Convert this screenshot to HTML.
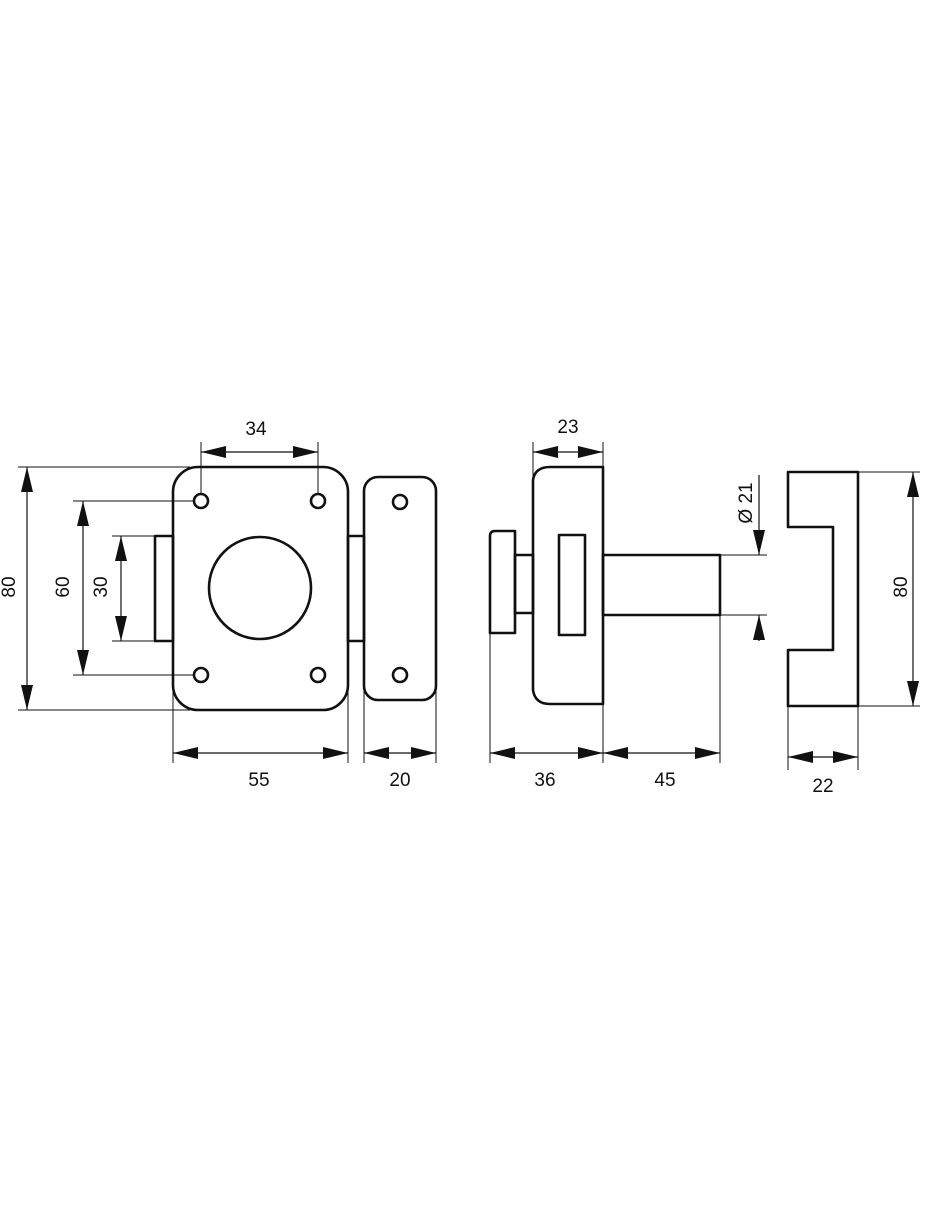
<!DOCTYPE html>
<html><head><meta charset="utf-8"><style>
html,body{margin:0;padding:0;background:#fff}
svg{display:block}
text{font-family:"Liberation Sans",sans-serif;font-size:19px;fill:#111}
</style></head><body>
<svg width="940" height="1214" viewBox="0 0 940 1214" xmlns="http://www.w3.org/2000/svg">
<defs>
<marker id="a" viewBox="0 0 10 10" refX="10" refY="5" markerWidth="25" markerHeight="12" markerUnits="userSpaceOnUse" orient="auto-start-reverse" preserveAspectRatio="none"><path d="M0,0 L10,5 L0,10 Z" fill="#111"/></marker>
</defs>
<g fill="none" stroke="#111" stroke-width="2.6" stroke-linejoin="round">
<rect x="155" y="536" width="18" height="105"/>
<rect x="348" y="536" width="16" height="105"/>
<rect x="173" y="467" width="175" height="243" rx="25"/>
<circle cx="260" cy="588" r="51"/>
<circle cx="201" cy="501" r="7"/><circle cx="318" cy="501" r="7"/>
<circle cx="201" cy="675" r="7"/><circle cx="318" cy="675" r="7"/>
<rect x="364" y="477" width="72" height="223" rx="14"/>
<circle cx="400" cy="502" r="7"/><circle cx="400" cy="675" r="7"/>
<path d="M533,480 Q535,467 550,467 H603 V704 H550 Q535,704 533,690 Z"/>
<rect x="559" y="535" width="26" height="100"/>
<path d="M490,536 Q490,531 495,531 H515 V633 H490 Z"/>
<rect x="515" y="555" width="18" height="58"/>
<rect x="603" y="555" width="117" height="60"/>
<path d="M788,472 H858 V706 H788 V650 H833 V527 H788 Z"/>
</g>
<g stroke="#111" stroke-width="1" fill="none">
<path d="M18,467 H190 M18,710 H190 M73,501 H194 M73,675 H194 M112,536 H155 M112,641 H155"/>
<path d="M201,442 V494 M318,442 V494"/>
<path d="M173,690 V763 M348,641 V763 M364,690 V763 M436,690 V763"/>
<path d="M533,442 V480 M603,442 V467 M490,633 V763 M603,704 V763 M720,615 V763"/>
<path d="M720,555 H767 M720,615 H767 M858,472 H920 M858,706 H920 M788,706 V770 M858,706 V770"/>
</g>
<g stroke="#111" stroke-width="1.2" fill="none" marker-start="url(#a)" marker-end="url(#a)">
<line x1="27" y1="467" x2="27" y2="710"/>
<line x1="83" y1="501" x2="83" y2="675"/>
<line x1="121" y1="536" x2="121" y2="641"/>
<line x1="201" y1="452" x2="318" y2="452"/>
<line x1="173" y1="753" x2="348" y2="753"/>
<line x1="364" y1="753" x2="436" y2="753"/>
<line x1="533" y1="452" x2="603" y2="452"/>
<line x1="490" y1="753" x2="603" y2="753"/>
<line x1="603" y1="753" x2="720" y2="753"/>
<line x1="913" y1="472" x2="913" y2="706"/>
<line x1="788" y1="757" x2="858" y2="757"/>
</g>
<g stroke="#111" stroke-width="1.2" fill="none">
<line x1="759" y1="475" x2="759" y2="555" marker-end="url(#a)"/>
<line x1="759" y1="641" x2="759" y2="615" marker-end="url(#a)"/>
</g>
<g text-anchor="middle">
<text x="256" y="435">34</text>
<text x="259" y="786">55</text>
<text x="400" y="786">20</text>
<text x="568" y="433">23</text>
<text x="545" y="786">36</text>
<text x="665" y="786">45</text>
<text x="823" y="792">22</text>
<text transform="translate(15,587) rotate(-90)">80</text>
<text transform="translate(69,587) rotate(-90)">60</text>
<text transform="translate(107,587) rotate(-90)">30</text>
<text transform="translate(907,587) rotate(-90)">80</text>
<text transform="translate(752,503) rotate(-90)">Ø 21</text>
</g>
</svg>
</body></html>
